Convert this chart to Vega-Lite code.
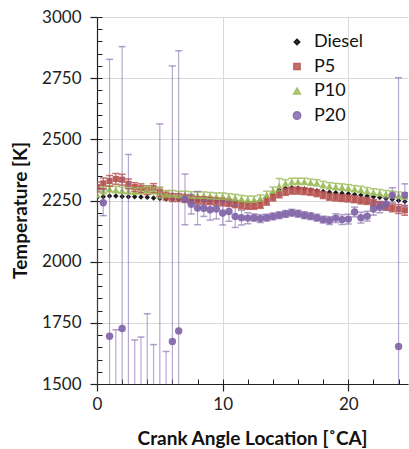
{
  "$schema": "https://vega.github.io/schema/vega-lite/v6.json",
  "width": 311,
  "height": 367,
  "autosize": {"type": "none"},
  "padding": {"left": 97, "top": 17, "right": 1, "bottom": 65},
  "background": "white",
  "config": {
    "view": {"stroke": null},
    "font": "Lato",
    "axis": {"labelFont": "Lato", "titleFont": "Lato", "labelColor": "#222", "titleColor": "#111"},
    "legend": {"labelFont": "Lato"}
  },
  "data": {"values": [
    {"ca":0,"series":"Diesel","t":2262},{"ca":0.5,"series":"Diesel","t":2265},{"ca":1,"series":"Diesel","t":2268},{"ca":1.5,"series":"Diesel","t":2268},{"ca":2,"series":"Diesel","t":2266},{"ca":2.5,"series":"Diesel","t":2265},{"ca":3,"series":"Diesel","t":2265},{"ca":3.5,"series":"Diesel","t":2264},{"ca":4,"series":"Diesel","t":2263},{"ca":4.5,"series":"Diesel","t":2260},{"ca":5,"series":"Diesel","t":2258},{"ca":5.5,"series":"Diesel","t":2256},{"ca":6,"series":"Diesel","t":2255},{"ca":6.5,"series":"Diesel","t":2255},{"ca":7,"series":"Diesel","t":2254},{"ca":7.5,"series":"Diesel","t":2253},{"ca":8,"series":"Diesel","t":2252},{"ca":8.5,"series":"Diesel","t":2252},{"ca":9,"series":"Diesel","t":2251},{"ca":9.5,"series":"Diesel","t":2250},{"ca":10,"series":"Diesel","t":2250},{"ca":10.5,"series":"Diesel","t":2248},{"ca":11,"series":"Diesel","t":2246},{"ca":11.5,"series":"Diesel","t":2244},{"ca":12,"series":"Diesel","t":2242},{"ca":12.5,"series":"Diesel","t":2243},{"ca":13,"series":"Diesel","t":2248},{"ca":13.5,"series":"Diesel","t":2262},{"ca":14,"series":"Diesel","t":2278},{"ca":14.5,"series":"Diesel","t":2292},{"ca":15,"series":"Diesel","t":2300},{"ca":15.5,"series":"Diesel","t":2302},{"ca":16,"series":"Diesel","t":2300},{"ca":16.5,"series":"Diesel","t":2297},{"ca":17,"series":"Diesel","t":2293},{"ca":17.5,"series":"Diesel","t":2290},{"ca":18,"series":"Diesel","t":2287},{"ca":18.5,"series":"Diesel","t":2284},{"ca":19,"series":"Diesel","t":2282},{"ca":19.5,"series":"Diesel","t":2280},{"ca":20,"series":"Diesel","t":2278},{"ca":20.5,"series":"Diesel","t":2275},{"ca":21,"series":"Diesel","t":2272},{"ca":21.5,"series":"Diesel","t":2268},{"ca":22,"series":"Diesel","t":2265},{"ca":22.5,"series":"Diesel","t":2262},{"ca":23,"series":"Diesel","t":2258},{"ca":23.5,"series":"Diesel","t":2255},{"ca":24,"series":"Diesel","t":2250},{"ca":24.5,"series":"Diesel","t":2246},

    {"ca":0,"series":"P5","t":2305,"lo":2285,"hi":2325},{"ca":0.5,"series":"P5","t":2320,"lo":2298,"hi":2342},{"ca":1,"series":"P5","t":2330,"lo":2308,"hi":2352},{"ca":1.5,"series":"P5","t":2338,"lo":2316,"hi":2360},{"ca":2,"series":"P5","t":2335,"lo":2313,"hi":2357},{"ca":2.5,"series":"P5","t":2318,"lo":2298,"hi":2338},{"ca":3,"series":"P5","t":2305,"lo":2287,"hi":2323},{"ca":3.5,"series":"P5","t":2300,"lo":2282,"hi":2318},{"ca":4,"series":"P5","t":2292,"lo":2274,"hi":2310},{"ca":4.5,"series":"P5","t":2300,"lo":2281,"hi":2319},{"ca":5,"series":"P5","t":2285,"lo":2267,"hi":2303},{"ca":5.5,"series":"P5","t":2268,"lo":2252,"hi":2284},{"ca":6,"series":"P5","t":2262,"lo":2246,"hi":2278},{"ca":6.5,"series":"P5","t":2262,"lo":2246,"hi":2278},{"ca":7,"series":"P5","t":2258,"lo":2242,"hi":2274},{"ca":7.5,"series":"P5","t":2255,"lo":2240,"hi":2270},{"ca":8,"series":"P5","t":2250,"lo":2235,"hi":2265},{"ca":8.5,"series":"P5","t":2250,"lo":2235,"hi":2265},{"ca":9,"series":"P5","t":2248,"lo":2233,"hi":2263},{"ca":9.5,"series":"P5","t":2245,"lo":2230,"hi":2260},{"ca":10,"series":"P5","t":2243,"lo":2228,"hi":2258},{"ca":10.5,"series":"P5","t":2240,"lo":2226,"hi":2254},{"ca":11,"series":"P5","t":2235,"lo":2221,"hi":2249},{"ca":11.5,"series":"P5","t":2230,"lo":2216,"hi":2244},{"ca":12,"series":"P5","t":2228,"lo":2214,"hi":2242},{"ca":12.5,"series":"P5","t":2228,"lo":2214,"hi":2242},{"ca":13,"series":"P5","t":2232,"lo":2218,"hi":2246},{"ca":13.5,"series":"P5","t":2245,"lo":2231,"hi":2259},{"ca":14,"series":"P5","t":2262,"lo":2248,"hi":2276},{"ca":14.5,"series":"P5","t":2275,"lo":2261,"hi":2289},{"ca":15,"series":"P5","t":2285,"lo":2271,"hi":2299},{"ca":15.5,"series":"P5","t":2290,"lo":2276,"hi":2304},{"ca":16,"series":"P5","t":2290,"lo":2276,"hi":2304},{"ca":16.5,"series":"P5","t":2288,"lo":2274,"hi":2302},{"ca":17,"series":"P5","t":2285,"lo":2271,"hi":2299},{"ca":17.5,"series":"P5","t":2280,"lo":2266,"hi":2294},{"ca":18,"series":"P5","t":2272,"lo":2258,"hi":2286},{"ca":18.5,"series":"P5","t":2265,"lo":2251,"hi":2279},{"ca":19,"series":"P5","t":2262,"lo":2248,"hi":2276},{"ca":19.5,"series":"P5","t":2260,"lo":2246,"hi":2274},{"ca":20,"series":"P5","t":2258,"lo":2244,"hi":2272},{"ca":20.5,"series":"P5","t":2255,"lo":2241,"hi":2269},{"ca":21,"series":"P5","t":2250,"lo":2236,"hi":2264},{"ca":21.5,"series":"P5","t":2248,"lo":2234,"hi":2262},{"ca":22,"series":"P5","t":2240,"lo":2226,"hi":2254},{"ca":22.5,"series":"P5","t":2232,"lo":2218,"hi":2246},{"ca":23,"series":"P5","t":2225,"lo":2210,"hi":2240},{"ca":23.5,"series":"P5","t":2220,"lo":2204,"hi":2236},{"ca":24,"series":"P5","t":2215,"lo":2197,"hi":2233},{"ca":24.5,"series":"P5","t":2210,"lo":2190,"hi":2230},

    {"ca":0,"series":"P10","t":2275,"lo":2262,"hi":2288},{"ca":0.5,"series":"P10","t":2290,"lo":2277,"hi":2303},{"ca":1,"series":"P10","t":2298,"lo":2285,"hi":2311},{"ca":1.5,"series":"P10","t":2295,"lo":2282,"hi":2308},{"ca":2,"series":"P10","t":2292,"lo":2279,"hi":2305},{"ca":2.5,"series":"P10","t":2290,"lo":2277,"hi":2303},{"ca":3,"series":"P10","t":2288,"lo":2275,"hi":2301},{"ca":3.5,"series":"P10","t":2290,"lo":2277,"hi":2303},{"ca":4,"series":"P10","t":2295,"lo":2282,"hi":2308},{"ca":4.5,"series":"P10","t":2290,"lo":2277,"hi":2303},{"ca":5,"series":"P10","t":2282,"lo":2260,"hi":2304},{"ca":5.5,"series":"P10","t":2278,"lo":2265,"hi":2291},{"ca":6,"series":"P10","t":2278,"lo":2265,"hi":2291},{"ca":6.5,"series":"P10","t":2275,"lo":2262,"hi":2288},{"ca":7,"series":"P10","t":2275,"lo":2262,"hi":2288},{"ca":7.5,"series":"P10","t":2273,"lo":2260,"hi":2286},{"ca":8,"series":"P10","t":2272,"lo":2259,"hi":2285},{"ca":8.5,"series":"P10","t":2272,"lo":2259,"hi":2285},{"ca":9,"series":"P10","t":2270,"lo":2257,"hi":2283},{"ca":9.5,"series":"P10","t":2268,"lo":2255,"hi":2281},{"ca":10,"series":"P10","t":2268,"lo":2255,"hi":2281},{"ca":10.5,"series":"P10","t":2265,"lo":2252,"hi":2278},{"ca":11,"series":"P10","t":2262,"lo":2249,"hi":2275},{"ca":11.5,"series":"P10","t":2258,"lo":2245,"hi":2271},{"ca":12,"series":"P10","t":2255,"lo":2242,"hi":2268},{"ca":12.5,"series":"P10","t":2255,"lo":2242,"hi":2268},{"ca":13,"series":"P10","t":2260,"lo":2247,"hi":2273},{"ca":13.5,"series":"P10","t":2275,"lo":2262,"hi":2288},{"ca":14,"series":"P10","t":2292,"lo":2279,"hi":2305},{"ca":14.5,"series":"P10","t":2310,"lo":2290,"hi":2340},{"ca":15,"series":"P10","t":2322,"lo":2309,"hi":2335},{"ca":15.5,"series":"P10","t":2328,"lo":2315,"hi":2341},{"ca":16,"series":"P10","t":2328,"lo":2315,"hi":2341},{"ca":16.5,"series":"P10","t":2328,"lo":2315,"hi":2341},{"ca":17,"series":"P10","t":2325,"lo":2312,"hi":2338},{"ca":17.5,"series":"P10","t":2322,"lo":2309,"hi":2335},{"ca":18,"series":"P10","t":2315,"lo":2302,"hi":2328},{"ca":18.5,"series":"P10","t":2310,"lo":2297,"hi":2323},{"ca":19,"series":"P10","t":2307,"lo":2294,"hi":2320},{"ca":19.5,"series":"P10","t":2305,"lo":2292,"hi":2318},{"ca":20,"series":"P10","t":2302,"lo":2289,"hi":2315},{"ca":20.5,"series":"P10","t":2298,"lo":2285,"hi":2311},{"ca":21,"series":"P10","t":2295,"lo":2282,"hi":2308},{"ca":21.5,"series":"P10","t":2290,"lo":2277,"hi":2303},{"ca":22,"series":"P10","t":2285,"lo":2272,"hi":2298},{"ca":22.5,"series":"P10","t":2282,"lo":2269,"hi":2295},{"ca":23,"series":"P10","t":2278,"lo":2265,"hi":2291},{"ca":23.5,"series":"P10","t":2275,"lo":2262,"hi":2288},{"ca":24,"series":"P10","t":2272,"lo":2259,"hi":2285},{"ca":24.5,"series":"P10","t":2268,"lo":2255,"hi":2281},

    {"ca":0,"series":"P20","t":1300,"lo":154,"hi":2446},{"ca":0.5,"series":"P20","t":2241,"lo":2188,"hi":2294},{"ca":1,"series":"P20","t":1695,"lo":563,"hi":2827},{"ca":1.5,"series":"P20","t":1300,"lo":878,"hi":1722},{"ca":2,"series":"P20","t":1727,"lo":575,"hi":2879},{"ca":2.5,"series":"P20","t":1250,"lo":62,"hi":2438},{"ca":3,"series":"P20","t":1300,"lo":920,"hi":1680},{"ca":3.5,"series":"P20","t":1300,"lo":908,"hi":1692},{"ca":4,"series":"P20","t":1350,"lo":913,"hi":1787},{"ca":4.5,"series":"P20","t":1300,"lo":939,"hi":1661},{"ca":5,"series":"P20","t":1200,"lo":-163,"hi":2563},{"ca":5.5,"series":"P20","t":1300,"lo":967,"hi":1633},{"ca":6,"series":"P20","t":1674,"lo":548,"hi":2800},{"ca":6.5,"series":"P20","t":1717,"lo":572,"hi":2862},{"ca":7,"series":"P20","t":2255,"lo":2151,"hi":2358},{"ca":7.5,"series":"P20","t":2235,"lo":2195,"hi":2275},{"ca":8,"series":"P20","t":2219,"lo":2151,"hi":2287},{"ca":8.5,"series":"P20","t":2218,"lo":2185,"hi":2250},{"ca":9,"series":"P20","t":2212,"lo":2170,"hi":2254},{"ca":9.5,"series":"P20","t":2215,"lo":2175,"hi":2255},{"ca":10,"series":"P20","t":2199,"lo":2150,"hi":2248},{"ca":10.5,"series":"P20","t":2205,"lo":2165,"hi":2245},{"ca":11,"series":"P20","t":2185,"lo":2140,"hi":2230},{"ca":11.5,"series":"P20","t":2180,"lo":2150,"hi":2210},{"ca":12,"series":"P20","t":2178,"lo":2155,"hi":2200},{"ca":12.5,"series":"P20","t":2180,"lo":2165,"hi":2195},{"ca":13,"series":"P20","t":2176,"lo":2160,"hi":2192},{"ca":13.5,"series":"P20","t":2180,"lo":2166,"hi":2194},{"ca":14,"series":"P20","t":2185,"lo":2171,"hi":2199},{"ca":14.5,"series":"P20","t":2190,"lo":2176,"hi":2204},{"ca":15,"series":"P20","t":2195,"lo":2181,"hi":2209},{"ca":15.5,"series":"P20","t":2200,"lo":2186,"hi":2214},{"ca":16,"series":"P20","t":2196,"lo":2182,"hi":2210},{"ca":16.5,"series":"P20","t":2190,"lo":2176,"hi":2204},{"ca":17,"series":"P20","t":2186,"lo":2172,"hi":2200},{"ca":17.5,"series":"P20","t":2180,"lo":2166,"hi":2194},{"ca":18,"series":"P20","t":2172,"lo":2158,"hi":2186},{"ca":18.5,"series":"P20","t":2168,"lo":2152,"hi":2184},{"ca":19,"series":"P20","t":2178,"lo":2160,"hi":2196},{"ca":19.5,"series":"P20","t":2172,"lo":2152,"hi":2192},{"ca":20,"series":"P20","t":2174,"lo":2154,"hi":2194},{"ca":20.5,"series":"P20","t":2203,"lo":2183,"hi":2223},{"ca":21,"series":"P20","t":2180,"lo":2158,"hi":2202},{"ca":21.5,"series":"P20","t":2186,"lo":2166,"hi":2206},{"ca":22,"series":"P20","t":2215,"lo":2190,"hi":2240},{"ca":22.5,"series":"P20","t":2222,"lo":2200,"hi":2244},{"ca":23,"series":"P20","t":2236,"lo":2212,"hi":2260},{"ca":23.5,"series":"P20","t":2272,"lo":2242,"hi":2302},{"ca":24,"series":"P20","t":1653,"lo":555,"hi":2752},{"ca":24.5,"series":"P20","t":2272,"lo":2226,"hi":2318}
  ]},
  "resolve": {"axis": {"x": "independent", "y": "independent"}},
  "layer": [
    {
      "transform": [{"filter": "datum.series !== 'P20'"}],
      "mark": {"type": "point", "filled": true, "opacity": 0.9, "clip": true},
      "encoding": {
        "x": {"field": "ca", "type": "quantitative",
          "scale": {"domain": [0, 24.75], "nice": false, "zero": false},
          "axis": {"orient": "bottom", "values": [0, 10, 20], "format": "d", "grid": true, "gridColor": "#D9D9D9", "gridWidth": 1,
            "domainColor": "#222", "domainWidth": 1.2, "tickColor": "#222", "tickSize": 7, "tickWidth": 1.2,
            "labelFontSize": 17, "labelPadding": 5, "labelFlush": false,
            "title": "Crank Angle Location [˚CA]", "titleFontSize": 19, "titleFontWeight": "bold",
            "titleX": 155, "titleY": 54, "titleBaseline": "middle", "titleAlign": "center"}},
        "y": {"field": "t", "type": "quantitative",
          "scale": {"domain": [1500, 3000], "nice": false, "zero": false},
          "axis": {"orient": "left", "values": [1500, 1750, 2000, 2250, 2500, 2750, 3000], "format": "d", "grid": true, "gridColor": "#D9D9D9", "gridWidth": 1,
            "domainColor": "#222", "domainWidth": 1.2, "tickColor": "#222", "tickSize": 7, "tickWidth": 1.2,
            "labelFontSize": 17, "labelPadding": 9, "labelFlush": false,
            "title": "Temperature [K]", "titleFontSize": 19, "titleFontWeight": "bold",
            "titleX": -77, "titleY": 193, "titleBaseline": "middle", "titleAlign": "center", "titleAngle": -90}},
        "color": {"field": "series", "type": "nominal",
          "scale": {"domain": ["Diesel", "P5", "P10", "P20"], "range": ["#000000", "#B5504D", "#9BBB59", "#7E62A6"]},
          "legend": {"orient": "none", "legendX": 191, "legendY": 16, "title": null, "padding": 0,
            "labelFontSize": 18, "labelColor": "#111", "labelOffset": 8, "rowPadding": 6.5, "symbolOpacity": 0.9}},
        "shape": {"field": "series", "type": "nominal",
          "scale": {"domain": ["Diesel", "P5", "P10", "P20"], "range": ["diamond", "square", "triangle-up", "circle"]}},
        "size": {"field": "series", "type": "nominal",
          "scale": {"domain": ["Diesel", "P5", "P10", "P20"], "range": [30, 55, 55, 80]}}
      }
    },
    {
      "mark": {"type": "rule", "clip": true, "strokeWidth": 1.2},
      "encoding": {
        "x": {"field": "ca", "type": "quantitative",
          "axis": {"orient": "bottom", "values": [0, 2, 4, 6, 8, 10, 12, 14, 16, 18, 20, 22, 24], "grid": false, "domain": false, "labels": false, "title": null,
            "tickSize": -5, "tickColor": "#222", "tickWidth": 1}},
        "y": {"field": "lo", "type": "quantitative",
          "axis": {"orient": "left", "values": [1500, 1550, 1600, 1650, 1700, 1750, 1800, 1850, 1900, 1950, 2000, 2050, 2100, 2150, 2200, 2250, 2300, 2350, 2400, 2450, 2500, 2550, 2600, 2650, 2700, 2750, 2800, 2850, 2900, 2950, 3000],
            "grid": false, "domain": false, "labels": false, "title": null, "tickSize": -5, "tickColor": "#222", "tickWidth": 1}},
        "y2": {"field": "hi"},
        "color": {"field": "series", "type": "nominal", "legend": null},
        "strokeWidth": {"condition": {"test": "datum.series === 'P20'", "value": 2.5}, "value": 1},
        "opacity": {"condition": {"test": "datum.series === 'P20'", "value": 0.55}, "value": 0.8}
      }
    },
    {
      "mark": {"type": "tick", "clip": true, "orient": "horizontal", "size": 7, "thickness": 1.5},
      "encoding": {
        "x": {"field": "ca", "type": "quantitative", "axis": null},
        "y": {"field": "hi", "type": "quantitative", "axis": null},
        "color": {"field": "series", "type": "nominal", "legend": null},
        "opacity": {"condition": {"test": "datum.series === 'P20'", "value": 0.6}, "value": 0.8}
      }
    },
    {
      "mark": {"type": "tick", "clip": true, "orient": "horizontal", "size": 7, "thickness": 1.5},
      "encoding": {
        "x": {"field": "ca", "type": "quantitative", "axis": null},
        "y": {"field": "lo", "type": "quantitative", "axis": null},
        "color": {"field": "series", "type": "nominal", "legend": null},
        "opacity": {"condition": {"test": "datum.series === 'P20'", "value": 0.6}, "value": 0.8}
      }
    },
    {
      "transform": [{"filter": "datum.series === 'P20'"}],
      "mark": {"type": "point", "filled": true, "opacity": 0.9, "clip": true},
      "encoding": {
        "x": {"field": "ca", "type": "quantitative", "axis": null},
        "y": {"field": "t", "type": "quantitative", "axis": null},
        "color": {"field": "series", "type": "nominal", "legend": null},
        "shape": {"field": "series", "type": "nominal", "legend": null},
        "size": {"field": "series", "type": "nominal", "legend": null}
      }
    }
  ]
}
